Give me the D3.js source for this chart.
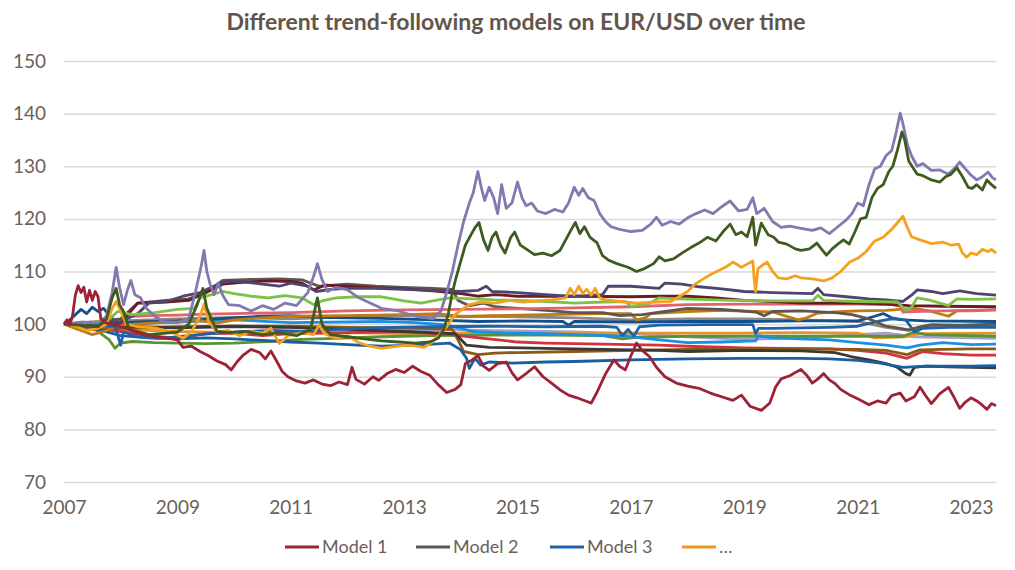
<!DOCTYPE html>
<html>
<head>
<meta charset="utf-8">
<script src="https://cdn.jsdelivr.net/npm/d3@7"></script>
<style>
    body { margin: 0; background: #ffffff; }
    svg { display: block; }
</style>
</head>
<body>
<div id="chart"></div>
<script>
// chart title, ticks, legend
var chart_title = "Different trend-following models on EUR/USD over time";
var x_ticks = [2007, 2009, 2011, 2013, 2015, 2017, 2019, 2021, 2023];
var y_ticks = [70, 80, 90, 100, 110, 120, 130, 140, 150];
var legend_names = ["Model 1", "Model 2", "Model 3", "\u2026"];

// each series: [year, index value]
var model_1 = [[2007.00,100.0],[2007.05,100.8],[2007.10,99.8],[2007.15,101.5],[2007.20,105.5],[2007.25,107.3],[2007.30,106.0],[2007.35,107.0],[2007.40,104.2],[2007.45,106.4],[2007.50,104.5],[2007.55,106.2],[2007.60,105.2],[2007.65,101.0],[2007.75,100.2],[2007.90,99.8],[2008.0,99.5],[2008.2,98.8],[2008.4,98.0],[2008.6,97.6],[2008.8,97.4],[2009.0,97.0],[2009.1,95.6],[2009.25,95.8],[2009.4,94.8],[2009.55,94.0],[2009.7,93.0],[2009.85,92.3],[2009.95,91.3],[2010.05,92.8],[2010.15,94.0],[2010.3,95.2],[2010.45,94.6],[2010.55,93.4],[2010.65,94.9],[2010.75,93.0],[2010.85,91.0],[2010.95,90.0],[2011.1,89.2],[2011.25,88.8],[2011.4,89.4],[2011.55,88.6],[2011.7,88.3],[2011.85,89.0],[2012.0,88.5],[2012.08,91.8],[2012.15,89.5],[2012.3,88.6],[2012.45,90.0],[2012.55,89.3],[2012.7,90.6],[2012.85,91.4],[2013.0,90.8],[2013.15,92.0],[2013.3,91.0],[2013.45,90.3],[2013.6,88.5],[2013.75,87.0],[2013.9,87.6],[2014.0,88.5],[2014.08,92.5],[2014.2,93.2],[2014.3,94.0],[2014.4,92.0],[2014.5,91.2],[2014.65,92.5],[2014.8,92.8],[2014.9,90.8],[2015.0,89.4],[2015.15,90.6],[2015.3,91.9],[2015.45,90.0],[2015.6,88.8],[2015.75,87.5],[2015.9,86.5],[2016.05,86.0],[2016.2,85.4],[2016.3,85.0],[2016.4,87.0],[2016.55,90.5],[2016.7,93.2],[2016.8,92.0],[2016.9,91.3],[2017.0,94.0],[2017.1,96.4],[2017.2,95.0],[2017.33,93.8],[2017.45,91.8],[2017.6,90.0],[2017.8,88.8],[2018.0,88.2],[2018.2,87.8],[2018.4,86.9],[2018.6,86.2],[2018.8,85.5],[2018.95,86.5],[2019.1,84.4],[2019.3,83.6],[2019.45,85.0],[2019.55,88.0],[2019.65,89.6],[2019.8,90.2],[2020.0,91.4],[2020.1,90.3],[2020.2,88.8],[2020.3,89.6],[2020.4,90.6],[2020.5,89.4],[2020.6,88.7],[2020.7,87.6],[2020.85,86.6],[2021.0,85.8],[2021.2,84.7],[2021.35,85.4],[2021.5,85.0],[2021.6,86.4],[2021.75,86.9],[2021.85,85.4],[2022.0,86.2],[2022.1,88.0],[2022.2,86.4],[2022.3,84.9],[2022.45,86.8],[2022.6,88.0],[2022.7,86.1],[2022.8,84.0],[2022.9,85.2],[2023.0,86.0],[2023.1,85.4],[2023.2,84.6],[2023.28,83.8],[2023.36,84.9],[2023.44,84.5]];

var model_2 = [[2007,100],[2007.5,100.4],[2008.0,101],[2008.3,104],[2008.8,104.5],[2009.2,104.8],[2009.5,106],[2009.8,108.3],[2010.3,108.5],[2010.8,108.6],[2011.2,108.4],[2011.5,107.2],[2012.0,107.6],[2012.5,107.2],[2013.0,107],[2013.5,106.8],[2013.85,106.6],[2013.95,104.5],[2014.15,103.5],[2014.4,104],[2014.6,103.3],[2015.0,103],[2015.5,102.6],[2016.0,102.2],[2016.5,102.2],[2016.8,101.6],[2017.2,101.8],[2017.6,102.4],[2018.0,103],[2018.6,102.8],[2019.2,102.3],[2019.35,101.6],[2019.5,102.4],[2020.0,102.5],[2020.6,102.2],[2020.9,101.8],[2021.2,101],[2021.5,99.6],[2021.7,99.3],[2021.9,98.9],[2022.1,99.5],[2022.3,99.9],[2022.8,99.8],[2023.44,100]];

var model_3 = [[2007,100],[2007.4,99.8],[2007.9,99.6],[2008.0,96],[2008.05,98.5],[2008.3,97.6],[2008.7,97.3],[2009.2,97.8],[2009.7,98.3],[2010.2,98.6],[2010.7,98.8],[2011.2,98.6],[2011.7,98.9],[2012.2,99.2],[2012.8,99.4],[2013.5,99.5],[2014.5,99.6],[2015.5,99.5],[2016.5,99.6],[2016.75,99.4],[2016.85,97.8],[2016.95,99],[2017.05,97.7],[2017.15,99.5],[2017.5,99.8],[2018.3,99.9],[2019.15,99.9],[2019.2,98.2],[2019.25,99.2],[2019.5,99.2],[2020.5,99.4],[2021.0,99.6],[2021.4,100.6],[2021.6,101],[2021.85,100.8],[2022.0,98.5],[2022.15,99.2],[2022.6,99.4],[2023.44,99.4]];

var model_more = [[2007.0,100],[2007.2,99.6],[2007.4,98.8],[2007.6,99.2],[2007.75,100],[2007.85,103],[2007.92,104.3],[2008.0,102.5],[2008.1,100],[2008.3,99.5],[2008.6,99.3],[2008.9,98.5],[2009.1,97.3],[2009.25,98.6],[2009.4,101.5],[2009.47,103.8],[2009.55,100.5],[2009.7,98.5],[2009.9,98.8],[2010.1,97.8],[2010.3,98.6],[2010.5,98.3],[2010.65,99.2],[2010.8,96.3],[2010.95,97.8],[2011.2,98.4],[2011.4,98],[2011.5,99.8],[2011.6,98.2],[2011.8,97.3],[2012.0,97.8],[2012.2,96.5],[2012.4,95.8],[2012.6,95.4],[2012.9,95.8],[2013.1,96],[2013.35,95.6],[2013.5,96.6],[2013.62,98],[2013.75,99.5],[2013.9,101.8],[2014.05,103],[2014.15,103.7],[2014.35,104.2],[2014.6,104],[2014.85,104.5],[2015.1,104.2],[2015.35,104.4],[2015.6,104.6],[2015.85,105],[2015.93,106.8],[2016.0,105.6],[2016.08,107.2],[2016.15,105.8],[2016.22,106.6],[2016.3,105.5],[2016.37,106.8],[2016.45,105],[2016.55,104.6],[2016.8,104.3],[2017.1,104],[2017.4,104.2],[2017.7,104.3],[2017.85,105.2],[2018.0,106.2],[2018.12,107.5],[2018.25,108.4],[2018.4,109.4],[2018.55,110.2],[2018.7,111],[2018.8,111.8],[2018.95,110.8],[2019.05,111.4],[2019.15,112],[2019.18,108],[2019.2,106.2],[2019.24,110.5],[2019.32,111.2],[2019.4,111.8],[2019.5,110],[2019.6,108.8],[2019.75,108.6],[2019.9,109.2],[2020.0,108.8],[2020.2,108.6],[2020.4,108.2],[2020.55,108.8],[2020.7,110],[2020.86,111.8],[2021.0,112.5],[2021.15,113.8],[2021.3,115.8],[2021.45,116.5],[2021.6,118],[2021.72,119.5],[2021.8,120.5],[2021.87,118.5],[2021.95,116.6],[2022.1,116],[2022.3,115.3],[2022.5,115.6],[2022.65,115],[2022.78,115.2],[2022.85,113.5],[2022.92,112.7],[2023.0,113.5],[2023.1,113.2],[2023.2,114.2],[2023.3,113.8],[2023.36,114.2],[2023.44,113.5]];

var model_purple = [[2007.0,100],[2007.3,100.4],[2007.6,100.2],[2007.75,101.5],[2007.85,106],[2007.92,110.8],[2007.98,107],[2008.05,103.7],[2008.12,106.5],[2008.18,108.3],[2008.25,105.6],[2008.35,105],[2008.45,103],[2008.6,101.5],[2008.75,100.5],[2009.0,100.3],[2009.2,101],[2009.32,106.2],[2009.42,111],[2009.47,114],[2009.52,110],[2009.58,107.5],[2009.65,105.6],[2009.72,107.8],[2009.8,105.5],[2009.9,103.7],[2010.1,103.5],[2010.3,102.5],[2010.5,103.5],[2010.7,102.8],[2010.9,104],[2011.1,103.5],[2011.3,106],[2011.4,109],[2011.47,111.5],[2011.55,108.5],[2011.65,106.2],[2011.8,107],[2012.0,106.5],[2012.2,105],[2012.4,104],[2012.6,103],[2012.9,102.5],[2013.2,101.5],[2013.5,101],[2013.65,102.5],[2013.75,106],[2013.85,110],[2013.95,115],[2014.05,119.5],[2014.15,123],[2014.22,125],[2014.3,129],[2014.36,126],[2014.42,123.5],[2014.5,126],[2014.58,124],[2014.65,121],[2014.72,126.5],[2014.8,122],[2014.9,123],[2015.0,127],[2015.08,124],[2015.15,122.5],[2015.25,123],[2015.35,121.5],[2015.5,121],[2015.65,121.8],[2015.8,121.3],[2015.9,123],[2016.0,126],[2016.08,124.5],[2016.15,125.8],[2016.25,124],[2016.35,123.5],[2016.45,121],[2016.55,119.5],[2016.65,118.5],[2016.8,118],[2017.0,117.6],[2017.2,117.8],[2017.35,119],[2017.45,120.3],[2017.55,118.8],[2017.7,119.5],[2017.85,119],[2018.0,120.2],[2018.15,121],[2018.3,121.7],[2018.45,121],[2018.6,122.3],[2018.75,123.4],[2018.9,121.5],[2019.05,121.8],[2019.15,124],[2019.22,121],[2019.35,122],[2019.5,119.5],[2019.65,118.4],[2019.8,118.6],[2020.0,118.2],[2020.2,117.8],[2020.35,118.3],[2020.5,117.2],[2020.65,118.5],[2020.8,119.8],[2020.9,121],[2021.0,123],[2021.1,122.5],[2021.2,126.5],[2021.3,129.5],[2021.4,130],[2021.5,132],[2021.6,133],[2021.68,136.5],[2021.75,140.1],[2021.8,138],[2021.88,134],[2021.95,132],[2022.05,130],[2022.15,130.5],[2022.3,129.2],[2022.45,129.3],[2022.6,128.5],[2022.7,129.5],[2022.8,130.8],[2022.9,129.5],[2023.0,128.3],[2023.1,127.4],[2023.2,128],[2023.3,128.9],[2023.38,127.8],[2023.44,127.4]];

var model_dark_green = [[2007.0,100],[2007.3,99.8],[2007.6,99.5],[2007.75,101],[2007.85,105],[2007.92,106.8],[2007.98,103.7],[2008.05,102.4],[2008.15,99],[2008.3,98.6],[2008.5,98],[2008.8,98.3],[2009.0,98.5],[2009.2,100],[2009.35,103.7],[2009.45,106.8],[2009.52,103],[2009.6,101],[2009.7,98.6],[2009.9,98.4],[2010.2,98.6],[2010.5,98],[2010.8,98.4],[2011.1,97.8],[2011.35,99],[2011.47,105],[2011.55,100],[2011.7,98],[2012.0,97.6],[2012.3,97.2],[2012.6,96.8],[2012.9,96.6],[2013.2,96.4],[2013.45,96.6],[2013.6,97.3],[2013.7,99],[2013.78,102],[2013.85,106],[2013.92,109],[2014.0,112],[2014.08,115],[2014.18,117],[2014.26,118.5],[2014.32,119.3],[2014.4,116],[2014.48,114],[2014.55,116.5],[2014.62,117.5],[2014.7,115],[2014.78,113.5],[2014.88,116.5],[2014.95,117.5],[2015.05,115],[2015.15,114.3],[2015.3,113.2],[2015.45,113.5],[2015.6,113],[2015.75,114],[2015.85,116],[2015.95,118],[2016.02,119.3],[2016.1,117.2],[2016.18,118.5],[2016.28,116.5],[2016.4,115.5],[2016.5,113],[2016.6,112.2],[2016.75,111.5],[2016.95,110.8],[2017.1,110],[2017.25,110.6],[2017.4,111.5],[2017.5,112.8],[2017.6,112],[2017.75,112.4],[2017.9,113.5],[2018.05,114.5],[2018.2,115.4],[2018.35,116.5],[2018.5,115.8],[2018.62,117.5],[2018.75,119],[2018.85,117],[2018.95,117.5],[2019.05,116.6],[2019.15,120.3],[2019.2,115],[2019.3,119.2],[2019.42,117],[2019.52,116.5],[2019.6,115.6],[2019.75,115.2],[2019.9,114.3],[2020.0,114],[2020.15,114.3],[2020.28,115.4],[2020.38,114],[2020.45,113.1],[2020.55,114.3],[2020.65,115.2],[2020.75,116],[2020.85,115.2],[2020.95,117.5],[2021.05,120],[2021.15,120.3],[2021.25,124],[2021.35,125.8],[2021.45,126.5],[2021.55,129],[2021.62,130],[2021.7,133],[2021.78,136.5],[2021.83,135],[2021.9,131],[2021.97,129.8],[2022.05,128.5],[2022.15,128.2],[2022.3,127.4],[2022.45,127],[2022.55,128],[2022.65,128.5],[2022.75,129.7],[2022.85,128],[2022.95,126],[2023.02,125.8],[2023.1,126.5],[2023.2,125.5],[2023.28,127.4],[2023.36,126.5],[2023.44,125.8]];

var model_dark_purple = [[2007.0,100],[2007.5,100.2],[2008.0,100.4],[2008.3,102],[2008.5,104],[2008.8,104.3],[2009.1,105.3],[2009.4,106],[2009.7,107.5],[2009.9,108.2],[2010.2,108],[2010.5,107.6],[2010.8,107.2],[2011.0,107.8],[2011.3,107.2],[2011.45,106.2],[2011.7,106.6],[2012.0,106.8],[2012.5,106.8],[2013.0,106.6],[2013.5,106.4],[2014.0,106.2],[2014.3,106.4],[2014.45,107.2],[2014.55,106.2],[2015.0,106],[2015.5,105.6],[2015.9,105.3],[2016.2,105.4],[2016.5,105.6],[2016.6,107.2],[2017.0,107.2],[2017.5,106.8],[2017.6,107.8],[2017.9,107.6],[2018.2,107.1],[2018.6,106.7],[2019.0,106.2],[2019.5,106],[2020.2,105.8],[2020.3,106.8],[2020.4,105.6],[2020.8,105.2],[2021.2,104.8],[2021.5,104.6],[2021.8,104.3],[2021.95,105.5],[2022.05,106.5],[2022.3,106.2],[2022.5,105.8],[2022.8,106.3],[2023.1,105.8],[2023.44,105.5]];

var model_maroon = [[2007,100],[2007.5,99.8],[2008.0,100.2],[2008.3,104],[2008.8,104.2],[2009.2,104.5],[2009.6,106.5],[2009.8,107.6],[2010.2,108],[2010.6,108.2],[2011.0,108.1],[2011.2,107.8],[2011.4,106.5],[2011.6,107.4],[2012.0,107.2],[2012.5,106.9],[2013.0,106.7],[2013.5,106.3],[2014.0,105.8],[2014.3,105.3],[2014.6,105.6],[2015.0,105.3],[2016.0,105.3],[2017.0,105.2],[2017.5,105.3],[2018.0,105.3],[2018.5,105],[2019.0,104.5],[2019.5,104.3],[2020.0,104],[2021.0,104],[2021.5,103.8],[2021.9,103.5],[2022.5,103.4],[2023.44,103.3]];

var model_light_green = [[2007,100],[2007.5,100.3],[2007.8,101],[2007.95,102.4],[2008.2,101.8],[2008.6,102.2],[2009.0,102.8],[2009.3,103],[2009.4,105],[2009.6,105.6],[2009.8,106.2],[2010.0,105.8],[2010.3,105.3],[2010.6,105],[2010.9,105.4],[2011.2,105],[2011.4,103.7],[2011.55,104.4],[2011.8,105],[2012.2,105.2],[2012.6,105.2],[2013.0,104.4],[2013.3,104],[2013.6,104.6],[2013.8,105],[2014.2,104.8],[2014.6,104.6],[2015.0,104.5],[2015.5,104.3],[2016.0,104],[2016.5,104.2],[2016.9,104.3],[2017.0,103.4],[2017.3,103.8],[2017.5,105],[2017.8,104.8],[2018.2,104.7],[2018.8,104.5],[2019.5,104.4],[2020.2,104.4],[2020.3,105.5],[2020.4,104.5],[2021.0,104.3],[2021.7,104.2],[2021.85,102.6],[2021.95,103.2],[2022.05,105],[2022.25,104.6],[2022.45,104],[2022.6,103.5],[2022.75,104.8],[2023.0,104.7],[2023.44,104.8]];

var model_pink = [[2007,100],[2007.5,100.1],[2008.0,99.9],[2008.1,101.4],[2008.5,101.6],[2009.0,101.7],[2009.5,101.9],[2010.0,102],[2011.0,102.2],[2012.0,102.5],[2013.0,102.7],[2014.0,102.8],[2015.0,102.9],[2016.0,103.1],[2017.0,103.3],[2018.0,103.7],[2019.0,103.8],[2020.0,103.8],[2021.0,103.8],[2021.6,103.7],[2021.75,103.4],[2021.8,102.3],[2022.0,102.4],[2022.5,102.5],[2023.0,102.6],[2023.44,102.7]];

var model_amber = [[2007,100],[2007.2,99.2],[2007.5,98],[2007.7,98.6],[2008.0,99.8],[2008.5,100.2],[2009.0,100.4],[2009.3,100.8],[2009.7,100.2],[2010.0,100.8],[2010.5,101.2],[2011.0,101.5],[2012.0,101.6],[2013.0,101.8],[2013.6,102],[2014.0,101.4],[2014.5,101.6],[2015.5,101.8],[2016.5,102],[2017.0,102],[2017.1,100.8],[2017.25,101.2],[2017.35,102],[2018.0,102.4],[2018.6,102.6],[2019.5,102.3],[2019.95,100.8],[2020.1,101.2],[2020.3,102.1],[2020.6,102.3],[2021.0,102.5],[2021.5,102.6],[2022.0,103],[2022.3,102.4],[2022.6,101.5],[2022.75,102.5],[2023.0,102.5],[2023.44,102.7]];

var model_dark_navy = [[2007,100],[2007.1,100.8],[2007.2,101.8],[2007.3,102.8],[2007.4,102],[2007.5,103.2],[2007.6,102.4],[2007.7,103],[2007.8,101.6],[2007.95,100.2],[2008.3,100.4],[2009.0,100.6],[2009.5,100.9],[2010.0,101.2],[2010.5,101.5],[2011.0,101.6],[2011.5,101.3],[2012.0,101.2],[2012.6,101.1],[2013.5,100.8],[2014.3,100.5],[2015.0,100.6],[2015.8,100.5],[2015.9,99.8],[2016.0,100.5],[2017.0,100.4],[2018.0,100.5],[2019.0,100.5],[2020.0,100.6],[2021.0,100.6],[2021.3,101.5],[2021.45,102],[2021.6,101.2],[2021.8,100.8],[2022.2,100.6],[2023.44,100.5]];

var model_navy = [[2007,100],[2007.5,99.3],[2008.0,97.8],[2008.5,97.4],[2009.0,97.2],[2009.5,97.4],[2010.0,97.2],[2010.5,96.9],[2011.0,96.6],[2011.5,96.4],[2012.0,96.1],[2012.6,95.8],[2013.2,96],[2013.8,96.4],[2014.0,95.1],[2014.1,93.5],[2014.15,91.6],[2014.25,93.5],[2014.35,92.2],[2014.5,92.8],[2014.9,92.6],[2015.5,92.8],[2016.0,92.9],[2017.0,93.2],[2018.0,93.4],[2019.0,93.5],[2020.0,93.5],[2020.5,93.4],[2021.0,93.1],[2021.4,92.6],[2021.8,91.8],[2022.2,92],[2023.0,92],[2023.44,92.1]];

var model_charcoal = [[2007,100],[2008,99.6],[2009,99.3],[2010,99.6],[2011,99.4],[2012,99],[2013,98.6],[2013.9,98.2],[2014.1,96],[2014.5,95.6],[2015.5,95.4],[2016.5,95.2],[2017.5,95],[2018,94.8],[2019,95],[2020,94.9],[2020.6,94.6],[2020.9,93.8],[2021.2,93.2],[2021.5,92.5],[2021.7,91.8],[2021.85,90.6],[2021.92,90.3],[2022.0,91.8],[2022.2,92],[2022.6,91.9],[2023.0,91.8],[2023.44,91.7]];

var model_brown = [[2007,100],[2007.5,98.9],[2008,99.2],[2009,99.5],[2010,99.6],[2011,99.6],[2012,99.4],[2013,99.3],[2013.85,99],[2013.95,97],[2014.05,94.8],[2014.3,94.2],[2014.6,94.5],[2015.0,94.6],[2016.0,94.8],[2017.0,95],[2018.0,95.2],[2019,95.3],[2020,95.3],[2021,95.2],[2021.5,95],[2021.87,94.2],[2022.1,95.1],[2022.5,95.2],[2023,95.3],[2023.44,95.3]];

var model_red = [[2007,100],[2007.5,99.4],[2008,98.6],[2008.5,97.8],[2009,97.3],[2009.5,98.2],[2010,98.3],[2010.5,97.8],[2011,98.2],[2012,98.4],[2013,98.6],[2013.8,98],[2014.4,97.3],[2015,96.6],[2015.5,96.4],[2016.5,96.2],[2017.5,96],[2018.0,95.8],[2019,95.5],[2020.5,95.3],[2021.0,95],[2021.5,94.5],[2021.87,93.5],[2022.15,94.8],[2022.5,94.4],[2023,94.1],[2023.44,94.1]];

var model_sky = [[2007,100],[2007.5,100.2],[2008,100],[2009,100.4],[2010,100.8],[2011,100.3],[2012,100.4],[2012.6,100.5],[2013.2,100.3],[2013.7,99.9],[2014.0,99.2],[2014.2,98.6],[2014.8,98.3],[2015.5,98.2],[2016.3,97.9],[2016.9,97.7],[2017.5,97],[2018.0,96.5],[2018.6,96.6],[2019.2,96.8],[2019.25,97.8],[2019.5,97.4],[2020.5,97.0],[2021.0,96.5],[2021.5,96],[2021.87,95.5],[2022.1,96],[2022.5,96.5],[2023,96.1],[2023.44,96.2]];

var model_mid_green = [[2007,100],[2007.5,99.4],[2007.8,97],[2007.9,95.4],[2008.0,96.4],[2008.2,96.7],[2008.6,96.5],[2009.0,96.4],[2009.5,96.3],[2010.0,96.4],[2010.6,96.7],[2011.2,97.1],[2011.8,97.3],[2012.6,97.6],[2013.5,97.8],[2014.5,97.9],[2015.5,97.9],[2016.5,97.8],[2016.85,97.2],[2017.1,97.5],[2018.0,97.7],[2019,97.7],[2020,97.7],[2021,97.7],[2021.8,97.7],[2022.0,98.5],[2022.2,98],[2023.44,97.7]];

var model_lavender = [[2007,100],[2008,99.6],[2009,99.3],[2010,99.5],[2011,99.3],[2012,99.2],[2013,99],[2014,98.9],[2015,98.7],[2016,98.5],[2017,98.2],[2018,97.6],[2019,97.1],[2020,97.4],[2021,98],[2021.5,98.3],[2022,97.6],[2023,97.4],[2023.44,97.3]];

var model_light_orange = [[2007,100],[2007.5,99.5],[2008,99],[2009,98.6],[2010,98.4],[2011,98.2],[2012,98.4],[2013,98.2],[2014,98.3],[2015,98.4],[2016,98.2],[2017,98.3],[2018,98.3],[2019,98.3],[2020,98.4],[2021,98.3],[2021.3,97.4],[2021.6,97.5],[2021.85,97.6],[2022.1,98.2],[2023.44,98.3]];

var model_gray = [[2007,100],[2008,100.6],[2009,101],[2010,101.3],[2011,101],[2012,101.4],[2013,101.6],[2014,101.5],[2015,101.4],[2016,101.2],[2017,100.8],[2018,101],[2019,101],[2020,100.8],[2021,100.5],[2021.5,99.4],[2021.9,98.8],[2022.3,99.6],[2023.44,99.8]];

// drawing order: first drawn lies underneath
var series_list = [model_lavender, model_gray, model_light_orange, model_mid_green, model_sky, model_red, model_brown, model_charcoal, model_navy, model_dark_navy, model_amber, model_3, model_2, model_pink, model_maroon, model_dark_purple, model_light_green, model_more, model_purple, model_dark_green, model_1];
var series_colors = ["#a59fcb", "#8e8782", "#e8922a", "#5a9332", "#1d8fe2", "#d3323f", "#8b5a17", "#3c3834", "#1b5ea0", "#11508d", "#c07a12", "#1f62aa", "#5f5650", "#e0636f", "#6c1b25", "#4e4470", "#7cc243", "#f5a11e", "#8279b0", "#3e5c1f", "#9b2335"];
var legend_colors = ["#9b2335", "#5f5650", "#1f62aa", "#f0961f"];

var width = 1015, height = 570;
var x_left = 64, x_right = 996, y_top = 61, y_bottom = 482;
var text_color = "#6b5f58";

var svg = d3.select("#chart").append("svg")
    .attr("width", width)
    .attr("height", height);

var xScale = d3.scaleLinear().domain([2007, 2023.44]).range([x_left, x_right]);
var yScale = d3.scaleLinear().domain([70, 150]).range([y_bottom, y_top]);

function draw_grid() {
    // horizontal gridlines
    svg.append("g")
        .attr("transform", "translate(" + x_left + ",0)")
        .call(d3.axisLeft(yScale).tickValues(y_ticks).tickSize(-(x_right - x_left)).tickFormat(""))
        .call(function(g) { g.select(".domain").remove(); })
        .selectAll("line")
        .attr("stroke", "#d9d9d9")
        .attr("stroke-width", 1.5);

    // y labels
    var yAxis = svg.append("g")
        .attr("transform", "translate(46,0)")
        .call(d3.axisLeft(yScale).tickValues(y_ticks).tickSize(0).tickPadding(0));
    yAxis.select(".domain").remove();
    yAxis.selectAll("text")
        .attr("font-family", "Lato, sans-serif")
        .attr("font-size", "19px")
        .attr("fill", text_color);

    // x labels
    var xAxis = svg.append("g")
        .attr("transform", "translate(0," + 500 + ")")
        .call(d3.axisBottom(xScale).tickValues(x_ticks).tickSize(0).tickPadding(0).tickFormat(d3.format("d")));
    xAxis.select(".domain").remove();
    xAxis.selectAll("text")
        .attr("font-family", "Lato, sans-serif")
        .attr("font-size", "19px")
        .attr("fill", text_color);
}

function draw_lines() {
    var line = d3.line()
        .x(function(d) { return xScale(d[0]); })
        .y(function(d) { return yScale(d[1]); });

    svg.append("g")
        .selectAll("path")
        .data(series_list)
        .enter()
        .append("path")
        .attr("d", line)
        .attr("fill", "none")
        .attr("stroke", function(d, i) { return series_colors[i]; })
        .attr("stroke-width", 2.8)
        .attr("stroke-linejoin", "round");
}

function draw_titles() {
    svg.append("text")
        .attr("x", 516)
        .attr("y", 30)
        .attr("text-anchor", "middle")
        .attr("font-family", "Lato, sans-serif")
        .attr("font-size", "23px")
        .attr("font-weight", "bold")
        .attr("fill", "#62554c")
        .text(chart_title);
}

function draw_legend() {
    var item_x = [285, 416, 550, 682];
    var legend = svg.append("g").attr("transform", "translate(0,547)");
    legend_names.forEach(function(name, i) {
        legend.append("line")
            .attr("x1", item_x[i])
            .attr("x2", item_x[i] + 34)
            .attr("y1", 0)
            .attr("y2", 0)
            .attr("stroke", legend_colors[i])
            .attr("stroke-width", 3);
        legend.append("text")
            .attr("x", item_x[i] + 37)
            .attr("y", 6)
            .attr("font-family", "Lato, sans-serif")
            .attr("font-size", "18px")
            .attr("fill", text_color)
            .text(name);
    });
}

draw_grid();
draw_lines();
draw_titles();
draw_legend();
</script>
</body>
</html>
